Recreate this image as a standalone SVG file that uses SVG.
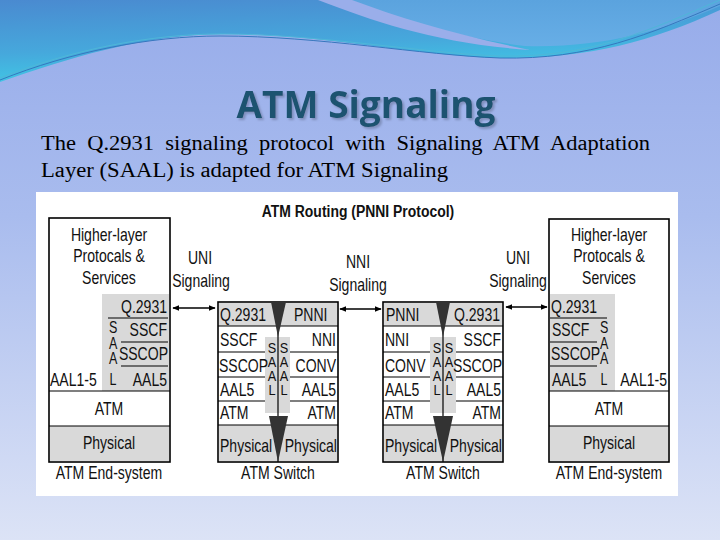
<svg xmlns="http://www.w3.org/2000/svg" width="720" height="540" viewBox="0 0 720 540">
<defs>
<linearGradient id="bg" x1="0" y1="0" x2="0" y2="1">
<stop offset="0" stop-color="#97ACEA"/>
<stop offset="0.4" stop-color="#A9BCEE"/>
<stop offset="1" stop-color="#DCE3F6"/>
</linearGradient>
<linearGradient id="band" x1="0" y1="0" x2="0.3" y2="1">
<stop offset="0" stop-color="#4A8AD0"/>
<stop offset="0.6" stop-color="#46A8DC"/>
<stop offset="1" stop-color="#3FCBE6"/>
</linearGradient>
<linearGradient id="band2" x1="0" y1="0" x2="0" y2="1">
<stop offset="0" stop-color="#5BA3DE"/>
<stop offset="1" stop-color="#67AEE6"/>
</linearGradient>
<filter id="sh" x="-10%" y="-20%" width="120%" height="150%">
<feDropShadow dx="2" dy="2" stdDeviation="1" flood-color="#6F7FA8" flood-opacity="0.7"/>
</filter>
<marker id="ah" viewBox="0 0 10 10" refX="9" refY="5" markerWidth="7" markerHeight="7" orient="auto-start-reverse" markerUnits="userSpaceOnUse">
<path d="M0,1 L10,5 L0,9 Z" fill="#000"/>
</marker>
<style>
.t{font-family:'Liberation Sans',Arial,sans-serif;font-size:18px;fill:#111;transform-box:fill-box;transform:scaleX(0.78);transform-origin:0% 50%}
.b{font-weight:bold;font-size:17px;transform:scaleX(0.82)}
.m{text-anchor:middle;transform-origin:50% 50%}
.e{text-anchor:end;transform-origin:100% 50%}
.s{font-size:15px;transform:scaleX(0.85)}
.s2{font-size:16px}
.box{fill:#fff;stroke:#000;stroke-width:1.6}
.g{fill:#D9D9D9}
.ln{stroke:#000;stroke-width:1.2;fill:none}
.tri{fill:#333}
.arr{stroke:#000;stroke-width:1.6;fill:none;marker-start:url(#ah);marker-end:url(#ah)}
</style>
</defs>

<rect x="0" y="0" width="720" height="540" fill="url(#bg)"/>
<path d="M0,0 H720 V10 C650,42 590,58 505,58 C420,57 320,33 225,34 C140,35 70,58 0,82 Z" fill="url(#band)"/>
<path d="M350,0 H720 V6 C660,32 600,48 525,46 C460,38 400,20 350,0 Z" fill="url(#band2)"/>
<path d="M318,0 C375,22 440,44 530,50 C460,36 400,18 352,0 Z" fill="#9AAEEA"/>
<path d="M0,80 C70,52 150,36 220,36 C320,36 420,55 500,58 C590,60 650,34 720,4" fill="none" stroke="#3677BE" stroke-width="1"/>
<path d="M0,78 C70,50 150,34 220,34 C320,34 420,53 500,56 C590,58 650,30 720,0" fill="none" stroke="#4FB6D8" stroke-width="1"/>

<text x="366" y="118" font-family="'Open Sans','Noto Sans',sans-serif" font-weight="bold" font-size="37" text-anchor="middle" fill="#1B5270" filter="url(#sh)" textLength="259" lengthAdjust="spacingAndGlyphs">ATM Signaling</text>
<text x="41" y="150" font-family="'Liberation Serif',serif" font-size="20" fill="#000" word-spacing="5" textLength="609" lengthAdjust="spacingAndGlyphs">The Q.2931 signaling protocol with Signaling ATM Adaptation</text>
<text x="41" y="177" font-family="'Liberation Serif',serif" font-size="20" fill="#000" textLength="407" lengthAdjust="spacingAndGlyphs">Layer (SAAL) is adapted for ATM Signaling</text>

<rect x="36" y="192" width="642" height="304" fill="#fff"/>

<text class="t b m" x="358" y="217">ATM Routing (PNNI Protocol)</text>

<g id="es-left">
<rect class="box" x="49" y="218" width="121" height="244"/>
<rect class="g" x="102" y="294" width="67" height="97"/>
<rect class="g" x="50" y="426" width="119" height="35"/>
<line class="ln" x1="49" y1="391" x2="170" y2="391"/>
<line class="ln" x1="49" y1="426" x2="170" y2="426"/>
<line class="ln" x1="108" y1="318" x2="168" y2="318"/>
<line class="ln" x1="121" y1="342" x2="168" y2="342"/>
<line class="ln" x1="121" y1="366" x2="168" y2="366"/>
<text class="t m" x="109" y="241">Higher-layer</text>
<text class="t m" x="109" y="262">Protocals &amp;</text>
<text class="t m" x="109" y="284">Services</text>
<text class="t e" x="167" y="313">Q.2931</text>
<text class="t e" x="167" y="336">SSCF</text>
<text class="t e" x="168" y="360">SSCOP</text>
<text class="t e" x="167" y="386">AAL5</text>
<text class="t m s2"><tspan x="113" y="333">S</tspan><tspan x="113" y="349">A</tspan><tspan x="113" y="364">A</tspan><tspan x="113" y="385">L</tspan></text>
<text class="t" x="50" y="386">AAL1-5</text>
<text class="t m" x="109" y="415">ATM</text>
<text class="t m" x="109" y="449">Physical</text>
<text class="t m" x="109" y="479">ATM End-system</text>
</g>

<g id="sw-1">
<rect class="box" x="218" y="302" width="120" height="160"/>
<rect class="g" x="219" y="303" width="118" height="23"/>
<rect class="g" x="219" y="425" width="118" height="36"/>
<rect class="g" x="265" y="337" width="25" height="76"/>
<line class="ln" x1="218" y1="326" x2="338" y2="326"/>
<line class="ln" x1="218" y1="425" x2="338" y2="425"/>
<line class="ln" x1="218" y1="352" x2="265" y2="352"/>
<line class="ln" x1="218" y1="377" x2="265" y2="377"/>
<line class="ln" x1="218" y1="401" x2="265" y2="401"/>
<line class="ln" x1="290" y1="352" x2="338" y2="352"/>
<line class="ln" x1="290" y1="377" x2="338" y2="377"/>
<line class="ln" x1="290" y1="401" x2="338" y2="401"/>
<line class="ln" x1="278" y1="302" x2="278" y2="462"/>
<path class="tri" d="M271,302 L286,302 L278,337 Z"/>
<path class="tri" d="M269,416 L288,416 L278,462 Z"/>
<text class="t" x="220" y="321">Q.2931</text>
<text class="t" x="220" y="346">SSCF</text>
<text class="t" x="219" y="372">SSCOP</text>
<text class="t" x="220" y="396">AAL5</text>
<text class="t" x="220" y="419">ATM</text>
<text class="t" x="220" y="452">Physical</text>
<text class="t" x="294" y="321">PNNI</text>
<text class="t e" x="336" y="346">NNI</text>
<text class="t e" x="336" y="372">CONV</text>
<text class="t e" x="336" y="396">AAL5</text>
<text class="t e" x="336" y="419">ATM</text>
<text class="t e" x="337" y="452">Physical</text>
<text class="t m s"><tspan x="272" y="353">S</tspan><tspan x="272" y="367">A</tspan><tspan x="272" y="381">A</tspan><tspan x="272" y="395">L</tspan></text>
<text class="t m s"><tspan x="284" y="353">S</tspan><tspan x="284" y="367">A</tspan><tspan x="284" y="381">A</tspan><tspan x="284" y="395">L</tspan></text>
<text class="t m" x="278" y="479">ATM Switch</text>
</g>

<g id="sw-2">
<rect class="box" x="383" y="302" width="120" height="160"/>
<rect class="g" x="384" y="303" width="118" height="23"/>
<rect class="g" x="384" y="425" width="118" height="36"/>
<rect class="g" x="430" y="337" width="26" height="76"/>
<line class="ln" x1="383" y1="326" x2="503" y2="326"/>
<line class="ln" x1="383" y1="425" x2="503" y2="425"/>
<line class="ln" x1="383" y1="352" x2="430" y2="352"/>
<line class="ln" x1="383" y1="377" x2="430" y2="377"/>
<line class="ln" x1="383" y1="401" x2="430" y2="401"/>
<line class="ln" x1="456" y1="352" x2="503" y2="352"/>
<line class="ln" x1="456" y1="377" x2="503" y2="377"/>
<line class="ln" x1="456" y1="401" x2="503" y2="401"/>
<line class="ln" x1="443" y1="302" x2="443" y2="462"/>
<path class="tri" d="M436,302 L450,302 L443,337 Z"/>
<path class="tri" d="M433,416 L453,416 L443,462 Z"/>
<text class="t" x="386" y="321">PNNI</text>
<text class="t" x="385" y="346">NNI</text>
<text class="t" x="385" y="372">CONV</text>
<text class="t" x="385" y="396">AAL5</text>
<text class="t" x="385" y="419">ATM</text>
<text class="t" x="385" y="452">Physical</text>
<text class="t e" x="500" y="321">Q.2931</text>
<text class="t e" x="501" y="346">SSCF</text>
<text class="t e" x="502" y="372">SSCOP</text>
<text class="t e" x="501" y="396">AAL5</text>
<text class="t e" x="501" y="419">ATM</text>
<text class="t e" x="502" y="452">Physical</text>
<text class="t m s"><tspan x="437" y="353">S</tspan><tspan x="437" y="367">A</tspan><tspan x="437" y="381">A</tspan><tspan x="437" y="395">L</tspan></text>
<text class="t m s"><tspan x="449" y="353">S</tspan><tspan x="449" y="367">A</tspan><tspan x="449" y="381">A</tspan><tspan x="449" y="395">L</tspan></text>
<text class="t m" x="443" y="479">ATM Switch</text>
</g>

<g id="es-right">
<rect class="box" x="549" y="219" width="120" height="243"/>
<rect class="g" x="550" y="294" width="65" height="97"/>
<rect class="g" x="550" y="426" width="118" height="35"/>
<line class="ln" x1="549" y1="391" x2="669" y2="391"/>
<line class="ln" x1="549" y1="426" x2="669" y2="426"/>
<line class="ln" x1="550" y1="318" x2="607" y2="318"/>
<line class="ln" x1="550" y1="342" x2="597" y2="342"/>
<line class="ln" x1="550" y1="366" x2="597" y2="366"/>
<text class="t m" x="609" y="241">Higher-layer</text>
<text class="t m" x="609" y="262">Protocals &amp;</text>
<text class="t m" x="609" y="284">Services</text>
<text class="t" x="551" y="313">Q.2931</text>
<text class="t" x="552" y="336">SSCF</text>
<text class="t" x="551" y="360">SSCOP</text>
<text class="t" x="552" y="386">AAL5</text>
<text class="t m s2"><tspan x="604" y="333">S</tspan><tspan x="604" y="349">A</tspan><tspan x="604" y="364">A</tspan><tspan x="604" y="385">L</tspan></text>
<text class="t e" x="667" y="386">AAL1-5</text>
<text class="t m" x="609" y="415">ATM</text>
<text class="t m" x="609" y="449">Physical</text>
<text class="t m" x="609" y="479">ATM End-system</text>
</g>

<g id="connectors">
<line class="arr" x1="173" y1="308" x2="215" y2="308"/>
<line class="arr" x1="340" y1="309" x2="381" y2="309"/>
<line class="arr" x1="506" y1="307" x2="547" y2="307"/>
</g>

<g id="labels">
<text class="t m" x="200" y="264">UNI</text>
<text class="t m" x="201" y="287">Signaling</text>
<text class="t m" x="358" y="268">NNI</text>
<text class="t m" x="358" y="291">Signaling</text>
<text class="t m" x="518" y="264">UNI</text>
<text class="t m" x="518" y="287">Signaling</text>
</g>
</svg>
